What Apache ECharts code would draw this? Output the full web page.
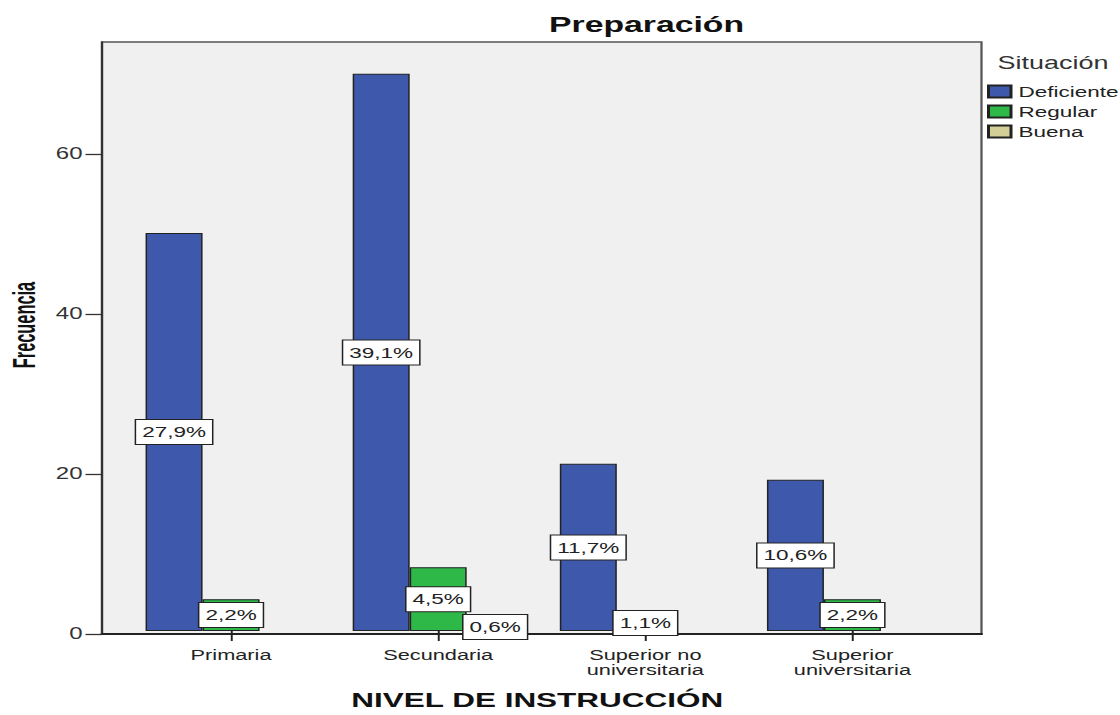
<!DOCTYPE html>
<html>
<head>
<meta charset="utf-8">
<script src="https://cdn.jsdelivr.net/npm/echarts@6/dist/echarts.min.js"></script>
<style>
  html, body { margin: 0; padding: 0; background: #fff; overflow: hidden; }
  /* the chart is laid out narrow and widened horizontally, giving the wide lettering */
  #chart { width: 746.667px; height: 715px; transform: scaleX(1.5); transform-origin: 0 0; }
</style>
</head>
<body>
<div id="chart"></div>
<script>
// Frecuencia por nivel de instrucción y situación
const categories = ['Primaria', 'Secundaria', 'Superior no\nuniversitaria', 'Superior\nuniversitaria'];
const deficiente = [50, 70, 21, 19];
const regular = [4, 8, 2, 4];
const buena = [null, 1, null, null];
const yTicks = [0, 20, 40, 60];
const seriesNames = ['Deficiente', 'Regular', 'Buena'];
const seriesColors = ['#3e58ac', '#2eb848', '#d3ce97'];

const total = [...deficiente, ...regular, ...buena].reduce((s, v) => s + (v || 0), 0);
const pct = v => (v / total * 100).toFixed(1).replace('.', ',') + '%';

const W = 746.667;
const FONT = "'Liberation Sans', Arial, sans-serif";

const barLabel = {
  show: true,
  position: 'inside',
  formatter: p => (p.value ? pct(p.value) : ''),
  color: '#222',
  fontFamily: FONT,
  fontSize: 15,
  lineHeight: 17,
  backgroundColor: '#ffffff',
  borderColor: '#222',
  borderWidth: 1,
  padding: [4, 4, 3, 4]
};

function barSeries(name, data, color) {
  return {
    name: name,
    type: 'bar',
    xAxisIndex: 1,
    yAxisIndex: 1,
    data: data,
    barWidth: 38,
    barGap: '0%',
    itemStyle: { color: color, borderColor: '#222', borderWidth: 1 },
    label: barLabel,
    emphasis: { disabled: true }
  };
}

const chart = echarts.init(document.getElementById('chart'), null, { renderer: 'svg' });
chart.setOption({
  animation: false,
  backgroundColor: '#ffffff',
  title: [
    {
      text: 'Preparación',
      left: 366, top: 13, padding: 0,
      textStyle: { fontFamily: FONT, fontSize: 22.5, fontWeight: 'bold', color: '#111' }
    },
    {
      text: 'Situación',
      left: 665, top: 54, padding: 0,
      textStyle: { fontFamily: FONT, fontSize: 18, fontWeight: 'normal', color: '#333' }
    }
  ],
  legend: {
    orient: 'vertical',
    left: 658, top: 83, padding: 0,
    itemWidth: 15, itemHeight: 12, itemGap: 3,
    icon: 'rect',
    selectedMode: false,
    data: seriesNames,
    textStyle: { fontFamily: FONT, fontSize: 15, lineHeight: 17, color: '#222' }
  },
  // condensed, rotated title of the frequency axis
  graphic: [{
    type: 'text',
    x: 16, y: 325,
    rotation: Math.PI / 2,
    scaleX: 0.78,
    style: {
      text: 'Frecuencia',
      fontFamily: FONT, fontSize: 21, fontWeight: 'bold', fill: '#111',
      align: 'center', verticalAlign: 'middle'
    }
  }],
  grid: [
    // frame with grey background and the frequency axis
    { left: 68, right: W - 654, top: 42, bottom: 81, show: true,
      backgroundColor: '#f0f0f0', borderColor: '#555', borderWidth: 1.5 },
    // category band area, inset from the frame
    { left: 85, right: W - 637, top: 42, bottom: 81 }
  ],
  xAxis: [
    { gridIndex: 0, type: 'value', min: 0, max: 1,
      axisLine: { show: true, onZero: false, lineStyle: { color: '#222', width: 2 } },
      axisTick: { show: false }, axisLabel: { show: false }, splitLine: { show: false } },
    { gridIndex: 1, type: 'category', data: categories,
      axisLine: { show: false },
      axisTick: { show: true, alignWithLabel: true, length: 10, lineStyle: { color: '#222', width: 1.3 } },
      axisLabel: { fontFamily: FONT, fontSize: 14.5, lineHeight: 15, color: '#222', margin: 16 },
      name: 'NIVEL DE INSTRUCCIÓN', nameLocation: 'middle', nameGap: 58,
      nameTextStyle: { fontFamily: FONT, fontSize: 21, fontWeight: 'bold', color: '#111',
        padding: [0, 6, 0, 0] } }
  ],
  yAxis: [
    { gridIndex: 0, type: 'value', min: 0, max: 74,
      axisLine: { show: true, lineStyle: { color: '#333', width: 1.5 } },
      axisTick: { show: true, length: 11, customValues: yTicks, lineStyle: { color: '#333', width: 1.3 } },
      axisLabel: { customValues: yTicks, fontFamily: FONT, fontSize: 16, color: '#333', margin: 13 },
      splitLine: { show: false } },
    { gridIndex: 1, type: 'value', min: 0, max: 74, show: false, splitLine: { show: false } }
  ],
  series: [
    barSeries(seriesNames[0], deficiente, seriesColors[0]),
    barSeries(seriesNames[1], regular, seriesColors[1]),
    barSeries(seriesNames[2], buena, seriesColors[2])
  ]
});
</script>
</body>
</html>
